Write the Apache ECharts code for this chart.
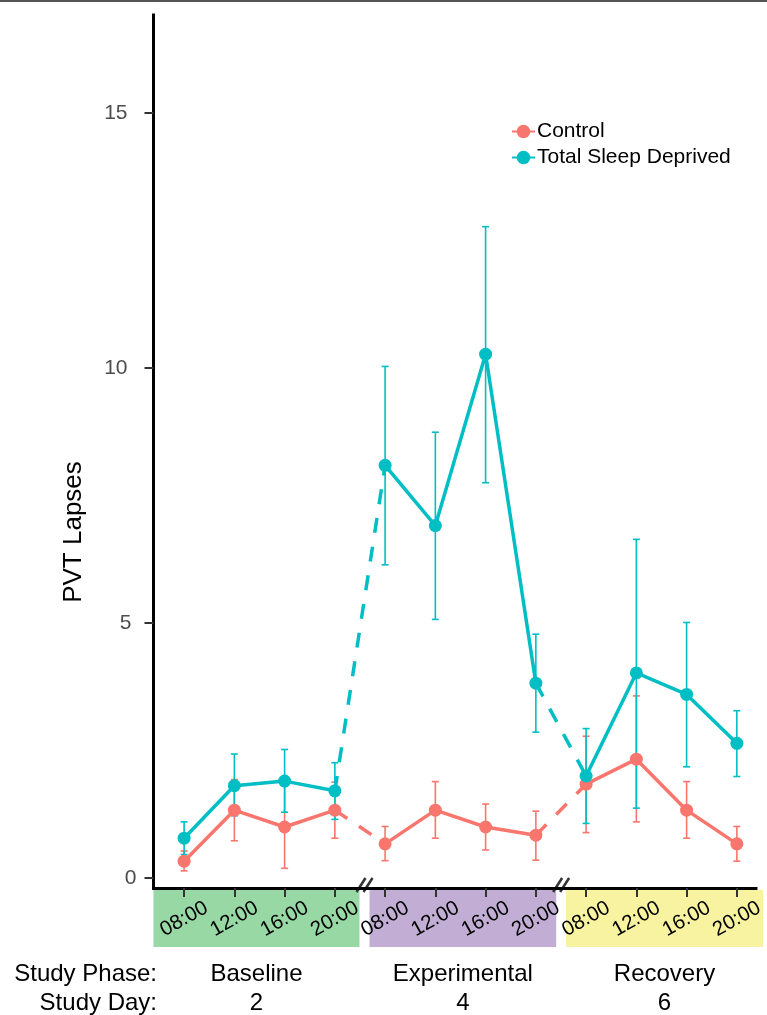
<!DOCTYPE html>
<html>
<head>
<meta charset="utf-8">
<script src="https://cdn.jsdelivr.net/npm/echarts@6/dist/echarts.min.js"></script>
<style>
html,body{margin:0;padding:0;background:#fff;}
#chart{width:767px;height:1015px;}
</style>
</head>
<body>
<div id="chart"></div>
<script>
// ---- data ----
const hours = ['08:00', '12:00', '16:00', '20:00'];
const phases = ['Baseline', 'Experimental', 'Recovery'];
const studyDays = ['2', '4', '6'];
const yTicks = [0, 5, 10, 15];
const seriesNames = ['Control', 'Total Sleep Deprived'];

const controlMean = [0.33, 1.33, 1.00, 1.33, 0.67, 1.33, 1.00, 0.84, 1.84, 2.33, 1.33, 0.67];
const controlLow  = [0.14, 0.73, 0.19, 0.78, 0.34, 0.78, 0.55, 0.35, 0.89, 1.10, 0.78, 0.33];
const controlHigh = [0.53, 1.93, 1.81, 1.88, 1.01, 1.89, 1.45, 1.31, 2.78, 3.57, 1.89, 1.01];

const tsdMean = [0.78, 1.81, 1.90, 1.71, 8.09, 6.91, 10.27, 3.82, 2.00, 4.02, 3.60, 2.64];
const tsdLow  = [0.46, 1.22, 1.29, 1.15, 6.14, 5.07, 7.75, 2.86, 1.07, 1.37, 2.18, 1.99];
const tsdHigh = [1.10, 2.43, 2.52, 2.26, 10.03, 8.74, 12.77, 4.78, 2.93, 6.64, 5.01, 3.28];

// ---- layout / style ----
const FONT = "'Liberation Sans', Arial, Helvetica, sans-serif";
const C_CTRL = '#F8766D';
const C_TSD = '#00BFC4';
const phaseColors = ['#97D8A4', '#C2AED4', '#F8F3A0'];
const boxEdges = [[-0.61, 3.49], [3.69, 7.405], [7.60, 11.52]];

const nH = hours.length;
const idx = controlMean.map((_, i) => i);

function solidData(mean) {
  const out = [];
  for (let d = 0; d < studyDays.length; d++) {
    if (d > 0) out.push([d * nH - 0.5, '-']);
    for (let h = 0; h < nH; h++) out.push([d * nH + h, mean[d * nH + h]]);
  }
  return out;
}
function dashedData(mean) {
  const out = [];
  for (let d = 0; d < studyDays.length - 1; d++) {
    if (d > 0) out.push([d * nH, '-']);
    const a = d * nH + nH - 1, b = a + 1;
    out.push([a, mean[a]], [b, mean[b]]);
  }
  return out;
}
function errData(low, high) {
  return idx.map(i => [i, low[i], high[i]]);
}

function errRender(color) {
  return function (params, api) {
    const x = api.value(0);
    const p0 = api.coord([x, api.value(1)]);
    const p1 = api.coord([x, api.value(2)]);
    const w = 3.5;
    const st = { stroke: color, lineWidth: 1.6, fill: null };
    return {
      type: 'group',
      children: [
        { type: 'line', shape: { x1: p0[0], y1: p0[1], x2: p1[0], y2: p1[1] }, style: st },
        { type: 'line', shape: { x1: p0[0] - w, y1: p0[1], x2: p0[0] + w, y2: p0[1] }, style: st },
        { type: 'line', shape: { x1: p1[0] - w, y1: p1[1], x2: p1[0] + w, y2: p1[1] }, style: st }
      ]
    };
  };
}

function phaseRender(params, api) {
  const i = api.value(0);
  const cs = params.coordSys;
  const base = cs.y + cs.height;
  const x0 = api.coord([boxEdges[i][0], 0])[0];
  const x1 = api.coord([boxEdges[i][1], 0])[0];
  const cx = (x0 + x1) / 2;
  const children = [
    { type: 'rect', shape: { x: x0, y: base + 2, width: x1 - x0, height: 57 }, style: { fill: phaseColors[i] }, z2: 0 },
    { type: 'text', style: { text: phases[i], x: cx, y: base + 86, align: 'center', verticalAlign: 'middle', font: '24px ' + FONT, fill: '#000' } },
    { type: 'text', style: { text: studyDays[i], x: cx, y: base + 115, align: 'center', verticalAlign: 'middle', font: '24px ' + FONT, fill: '#000' } }
  ];
  if (i > 0) {
    const gx = api.coord([(boxEdges[i - 1][1] + boxEdges[i][0]) / 2, 0])[0];
    [-3.5, 3.5].forEach(off => {
      children.push({
        type: 'line', z2: 10,
        shape: { x1: gx + off - 4.5, y1: base + 4, x2: gx + off + 4.5, y2: base - 10 },
        style: { stroke: '#333', lineWidth: 2.5 }
      });
    });
  }
  return { type: 'group', children };
}

const chart = echarts.init(document.getElementById('chart'), null, { renderer: 'canvas' });

const tickIdx = idx.slice();

chart.setOption({
  animation: false,
  backgroundColor: '#fff',
  textStyle: { fontFamily: FONT },
  grid: { left: 153.5, right: 7, top: 15, bottom: 127, containLabel: false },
  legend: {
    data: seriesNames,
    orient: 'vertical',
    left: 506,
    top: 116,
    itemWidth: 23,
    itemHeight: 17,
    itemGap: 5,
    textStyle: { fontSize: 21, color: '#000', fontFamily: FONT, lineHeight: 21, padding: [0, 0, 0, -3] }
  },
  xAxis: {
    type: 'value',
    min: -0.609,
    max: 11.38,
    z: 10,
    splitLine: { show: false },
    axisLine: { show: true, onZero: false, lineStyle: { color: '#000', width: 3, cap: 'square' } },
    axisTick: { show: true, customValues: tickIdx, length: 9, lineStyle: { color: '#333', width: 2 } },
    axisLabel: {
      customValues: tickIdx,
      formatter: v => hours[Math.round(v) % nH],
      rotate: 29,
      align: 'center',
      verticalAlign: 'middle',
      margin: 31,
      fontSize: 20.5,
      color: '#000',
      fontFamily: FONT
    }
  },
  yAxis: {
    type: 'value',
    min: -0.196,
    max: 16.92,
    z: 10,
    splitLine: { show: false },
    axisLine: { show: true, onZero: false, lineStyle: { color: '#000', width: 3, cap: 'square' } },
    axisTick: { show: true, customValues: yTicks, length: 9, lineStyle: { color: '#333', width: 2 } },
    axisLabel: {
      customValues: yTicks, fontSize: 21, color: '#4D4D4D', margin: 17, fontFamily: FONT,
      formatter: v => (v >= 10 ? '{w|' + v + '}' : (v > 0 ? '{m|' + v + '}' : String(v))),
      rich: {
        w: { fontSize: 21, color: '#4D4D4D', fontFamily: FONT, padding: [0, 9, 0, 0] },
        m: { fontSize: 21, color: '#4D4D4D', fontFamily: FONT, padding: [0, 5, 0, 0] }
      }
    }
  },
  graphic: [
    { type: 'rect', shape: { x: 0, y: 0, width: 767, height: 2 }, style: { fill: '#555' } },
    {
      type: 'text', x: 74, y: 532, rotation: Math.PI / 2,
      style: { text: 'PVT Lapses', align: 'center', verticalAlign: 'middle', font: '26px ' + FONT, fill: '#000' }
    },
    {
      type: 'text', x: 157, y: 974,
      style: { text: 'Study Phase:', align: 'right', verticalAlign: 'middle', font: '24px ' + FONT, fill: '#000' }
    },
    {
      type: 'text', x: 157, y: 1003,
      style: { text: 'Study Day:', align: 'right', verticalAlign: 'middle', font: '24px ' + FONT, fill: '#000' }
    }
  ],
  series: [
    {
      name: 'phases', type: 'custom', renderItem: phaseRender, clip: false, silent: true, z: 1,
      data: phases.map((_, i) => [i]), encode: { x: 0 }
    },
    {
      name: 'Control SE', type: 'custom', renderItem: errRender(C_CTRL), z: 2,
      data: errData(controlLow, controlHigh), encode: { x: 0, y: [1, 2] }
    },
    {
      name: 'TSD SE', type: 'custom', renderItem: errRender(C_TSD), z: 2,
      data: errData(tsdLow, tsdHigh), encode: { x: 0, y: [1, 2] }
    },
    {
      name: 'Control', type: 'line', z: 3, data: solidData(controlMean),
      symbol: 'circle', symbolSize: 13, showSymbol: true, connectNulls: false,
      itemStyle: { color: C_CTRL }, lineStyle: { color: C_CTRL, width: 3.5 }
    },
    {
      name: 'Total Sleep Deprived', type: 'line', z: 4, data: solidData(tsdMean),
      symbol: 'circle', symbolSize: 13, showSymbol: true, connectNulls: false,
      itemStyle: { color: C_TSD }, lineStyle: { color: C_TSD, width: 3.5 }
    },
    {
      name: 'Control dashed', type: 'line', z: 3, data: dashedData(controlMean),
      symbol: 'none', showSymbol: false, connectNulls: false,
      lineStyle: { color: C_CTRL, width: 3.5, type: [15, 14] }
    },
    {
      name: 'TSD dashed', type: 'line', z: 4, data: dashedData(tsdMean),
      symbol: 'none', showSymbol: false, connectNulls: false,
      lineStyle: { color: C_TSD, width: 3.5, type: [15, 14] }
    }
  ]
});
</script>
</body>
</html>
